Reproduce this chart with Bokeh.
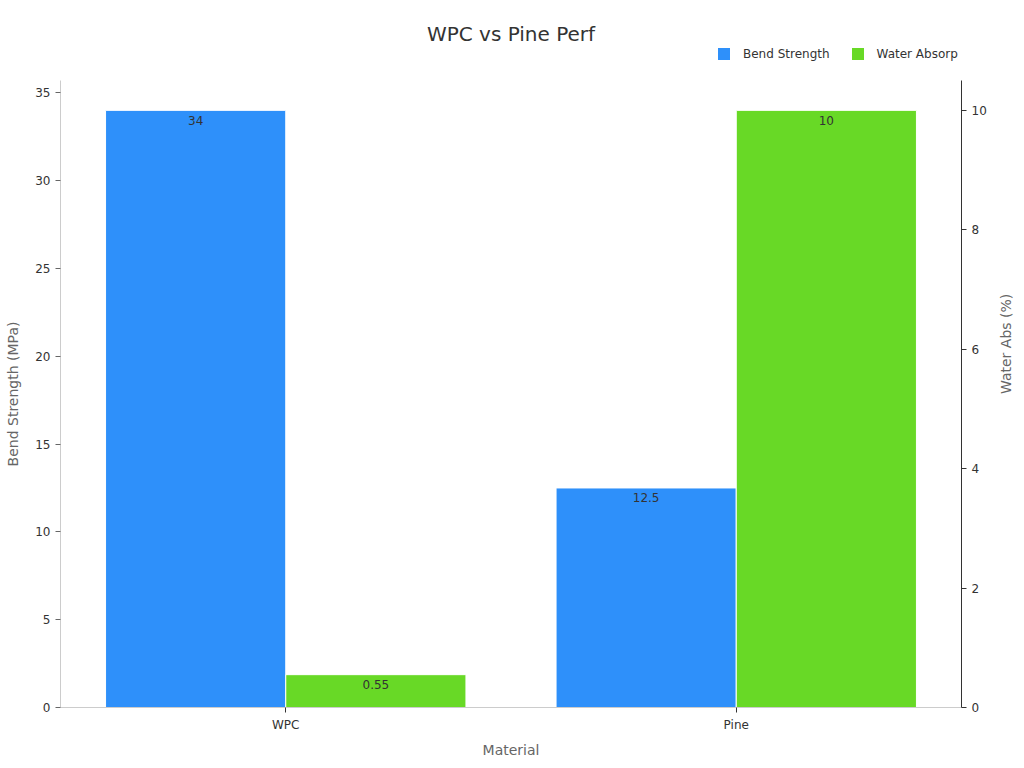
import math
from bokeh.plotting import figure
from bokeh.layouts import column
from bokeh.models import (ColumnDataSource, Range1d, LinearAxis, SingleIntervalTicker, Legend,
                          LegendItem, FactorRange, Label)
from bokeh.transform import dodge
from bokeh.core.properties import value
from bokeh.embed import file_html
from bokeh.resources import INLINE

materials = ["WPC", "Pine"]
bend_strength = [34, 12.5]
water_absorp = [0.55, 10]
bend_labels = ["34", "12.5"]
water_labels = ["0.55", "10"]
series_names = ["Bend Strength", "Water Absorp"]

BLUE = "#2E90FA"
GREEN = "#68D926"
FONT = "DejaVu Sans"

src = ColumnDataSource(dict(material=materials, bend=bend_strength, water=water_absorp,
                            bend_lbl=bend_labels, water_lbl=water_labels))
xr = FactorRange(*materials, range_padding=0)

# ---------- header (title + legend); its bars lie outside its visible range ----------
hdr = figure(width=1024, height=80, x_range=xr, y_range=Range1d(1000, 1080),
             output_backend="svg", toolbar_location=None, min_border=0)
hdr.axis.visible = False
hdr.grid.visible = False
hdr.outline_line_color = None
hdr.add_layout(Label(x=1.0, y=1047, text="WPC vs Pine Perf", text_align="center",
                     text_baseline="middle", text_font=FONT, text_font_size="20px",
                     text_color="#333333"))
d1 = hdr.vbar(x=dodge("material", -0.2, range=xr), top="bend", width=0.4, source=src,
              fill_color=BLUE, line_color=None)
d2 = hdr.vbar(x=dodge("material", 0.2, range=xr), top="water", width=0.4, source=src,
              fill_color=GREEN, line_color=None)
legend = Legend(items=[LegendItem(label=series_names[0], renderers=[d1], index=0),
                       LegendItem(label=series_names[1], renderers=[d2], index=0)],
                location=(656, 19), orientation="horizontal",
                glyph_width=15, glyph_height=15, label_standoff=12, spacing=20,
                padding=0, margin=0, border_line_color=None, background_fill_alpha=0,
                label_text_font=FONT, label_text_font_size="12px", label_text_color="#333333")
hdr.add_layout(legend, "center")

# ---------- main chart ----------
p = figure(width=1024, height=688, x_range=xr,
           y_range=Range1d(0, 35.7), output_backend="svg", toolbar_location=None,
           min_border_left=60, min_border_right=61, min_border_top=0, min_border_bottom=61)
p.extra_y_ranges = {"water": Range1d(0, 10.5)}
p.outline_line_color = None
p.xgrid.grid_line_color = None
p.ygrid.grid_line_color = None

p.vbar(x=dodge("material", -0.2, range=xr), top="bend", width=0.4, source=src,
       fill_color=BLUE, line_color="white", line_width=1)
p.vbar(x=dodge("material", 0.2, range=xr), top="water", width=0.4, source=src,
       fill_color=GREEN, line_color="white", line_width=1, y_range_name="water")

p.text(x=dodge("material", -0.2, range=xr), y="bend", text="bend_lbl", source=src,
       text_font=value(FONT), text_font_size="12px", text_color="#333333",
       text_align="center", text_baseline="middle", y_offset=10)
p.text(x=dodge("material", 0.2, range=xr), y="water", text="water_lbl", source=src,
       text_font=value(FONT), text_font_size="12px", text_color="#333333",
       text_align="center", text_baseline="middle", y_offset=10, y_range_name="water")

# left axis
ya = p.yaxis[0]
ya.ticker = SingleIntervalTicker(interval=5)
ya.axis_label = "Bend Strength (MPa)"
ya.axis_line_color = "#cccccc"
ya.major_tick_line_color = "#666666"
ya.major_tick_in = 0
ya.major_tick_out = 5
ya.minor_tick_line_color = None
ya.major_label_text_font = FONT
ya.major_label_text_font_size = "12px"
ya.major_label_text_color = "#333333"
ya.axis_label_text_font = FONT
ya.axis_label_text_font_size = "14px"
ya.axis_label_text_font_style = "normal"
ya.axis_label_text_color = "#666666"
ya.axis_label_standoff = 11

# right axis
ra = LinearAxis(y_range_name="water", axis_label="Water Abs (%)",
                ticker=SingleIntervalTicker(interval=2))
ra.axis_line_color = "#333333"
ra.major_tick_line_color = "#333333"
ra.major_tick_in = 0
ra.major_tick_out = 5
ra.minor_tick_line_color = None
ra.major_label_text_font = FONT
ra.major_label_text_font_size = "12px"
ra.major_label_text_color = "#333333"
ra.axis_label_text_font = FONT
ra.axis_label_text_font_size = "14px"
ra.axis_label_text_font_style = "normal"
ra.axis_label_text_color = "#666666"
ra.axis_label_orientation = math.pi / 2
ra.axis_label_standoff = 16
p.add_layout(ra, "right")

# bottom axis
xa = p.xaxis[0]
xa.axis_label = "Material"
xa.axis_line_color = "#cccccc"
xa.major_tick_line_color = "#333333"
xa.major_tick_in = 0
xa.major_tick_out = 5
xa.major_label_text_font = FONT
xa.major_label_text_font_size = "12px"
xa.major_label_text_color = "#333333"
xa.axis_label_text_font = FONT
xa.axis_label_text_font_size = "14px"
xa.axis_label_text_font_style = "normal"
xa.axis_label_text_color = "#666666"
xa.axis_label_standoff = 7

layout = column(hdr, p, spacing=0)
open("out.html", "w").write(file_html(layout, INLINE))
